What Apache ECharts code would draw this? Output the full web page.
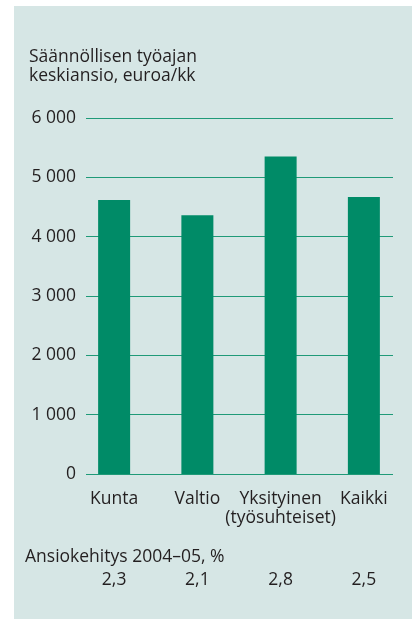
<!DOCTYPE html>
<html>
<head>
<meta charset="utf-8">
<script src="https://cdn.jsdelivr.net/npm/echarts@6/dist/echarts.min.js"></script>
<style>
  html, body { margin: 0; padding: 0; background: #fff; }
  /* vaalea taustalaatikko */
  .panel { position: absolute; left: 14px; top: 6px; right: 0; bottom: 0; background: #d6e6e5; }
  #chart { position: absolute; left: 0; top: 0; width: 412px; height: 619px; }
</style>
</head>
<body>
<div class="panel"></div>
<div id="chart"></div>
<script>
var sektorit = ["Kunta", "Valtio", "Yksityinen\n(työsuhteiset)", "Kaikki"];
var keskiansio = [4620, 4360, 5350, 4670];
var ansiokehitys = ["2,3", "2,1", "2,8", "2,5"];
var yTicks = [0, 1000, 2000, 3000, 4000, 5000, 6000];

var fontFam = "'Open Sans', sans-serif";
var textColor = "#231f20";
var green = "#008b67";
var fs = 17.5;

var myChart = echarts.init(document.getElementById("chart"));

var option = {
  animation: false,
  textStyle: { fontFamily: fontFam },
  graphic: [
    {
      type: "text",
      left: 29,
      top: 48,
      style: {
        text: "Säännöllisen työajan\nkeskiansio, euroa/kk",
        font: fs + "px " + fontFam,
        lineHeight: 19,
        fill: textColor,
      },
    },
    {
      type: "text",
      left: 25,
      top: 548,
      style: {
        text: "Ansiokehitys 2004–05, %",
        font: fs + "px " + fontFam,
        fill: textColor,
      },
    },
  ],
  grid: [
    // ruudukko ja y-akseli
    { left: 86, right: 19, top: 118, bottom: 145 },
    // pylväät
    { left: 72.5, right: 6.5, top: 118, bottom: 145 },
  ],
  xAxis: [
    {
      gridIndex: 0,
      type: "category",
      data: sektorit,
      show: false,
    },
    {
      gridIndex: 1,
      type: "category",
      data: sektorit,
      axisLine: { show: false },
      axisTick: { show: false },
      axisLabel: {
        interval: 0,
        margin: 16,
        fontSize: fs,
        lineHeight: 19,
        color: textColor,
        fontFamily: fontFam,
      },
    },
    {
      gridIndex: 1,
      type: "category",
      data: ansiokehitys,
      position: "bottom",
      offset: 89,
      axisLine: { show: false },
      axisTick: { show: false },
      axisLabel: {
        interval: 0,
        fontSize: fs,
        color: textColor,
        fontFamily: fontFam,
      },
    },
  ],
  yAxis: [
    {
      gridIndex: 0,
      type: "value",
      min: yTicks[0],
      max: yTicks[yTicks.length - 1],
      interval: 1000,
      axisLine: { show: false },
      axisTick: { show: false },
      axisLabel: {
        margin: 10,
        fontSize: fs,
        color: textColor,
        fontFamily: fontFam,
        formatter: function (v) {
          return String(v).replace(/\B(?=(\d{3})+(?!\d))/g, " ");
        },
      },
      splitLine: {
        show: true,
        lineStyle: { color: "#1f9a78", width: 1 },
      },
    },
    {
      gridIndex: 1,
      type: "value",
      min: yTicks[0],
      max: yTicks[yTicks.length - 1],
      show: false,
    },
  ],
  series: [
    {
      type: "bar",
      xAxisIndex: 1,
      yAxisIndex: 1,
      data: keskiansio,
      barWidth: 32,
      itemStyle: { color: green },
      z: 3,
    },
  ],
};

myChart.setOption(option, true);
</script>
</body>
</html>
